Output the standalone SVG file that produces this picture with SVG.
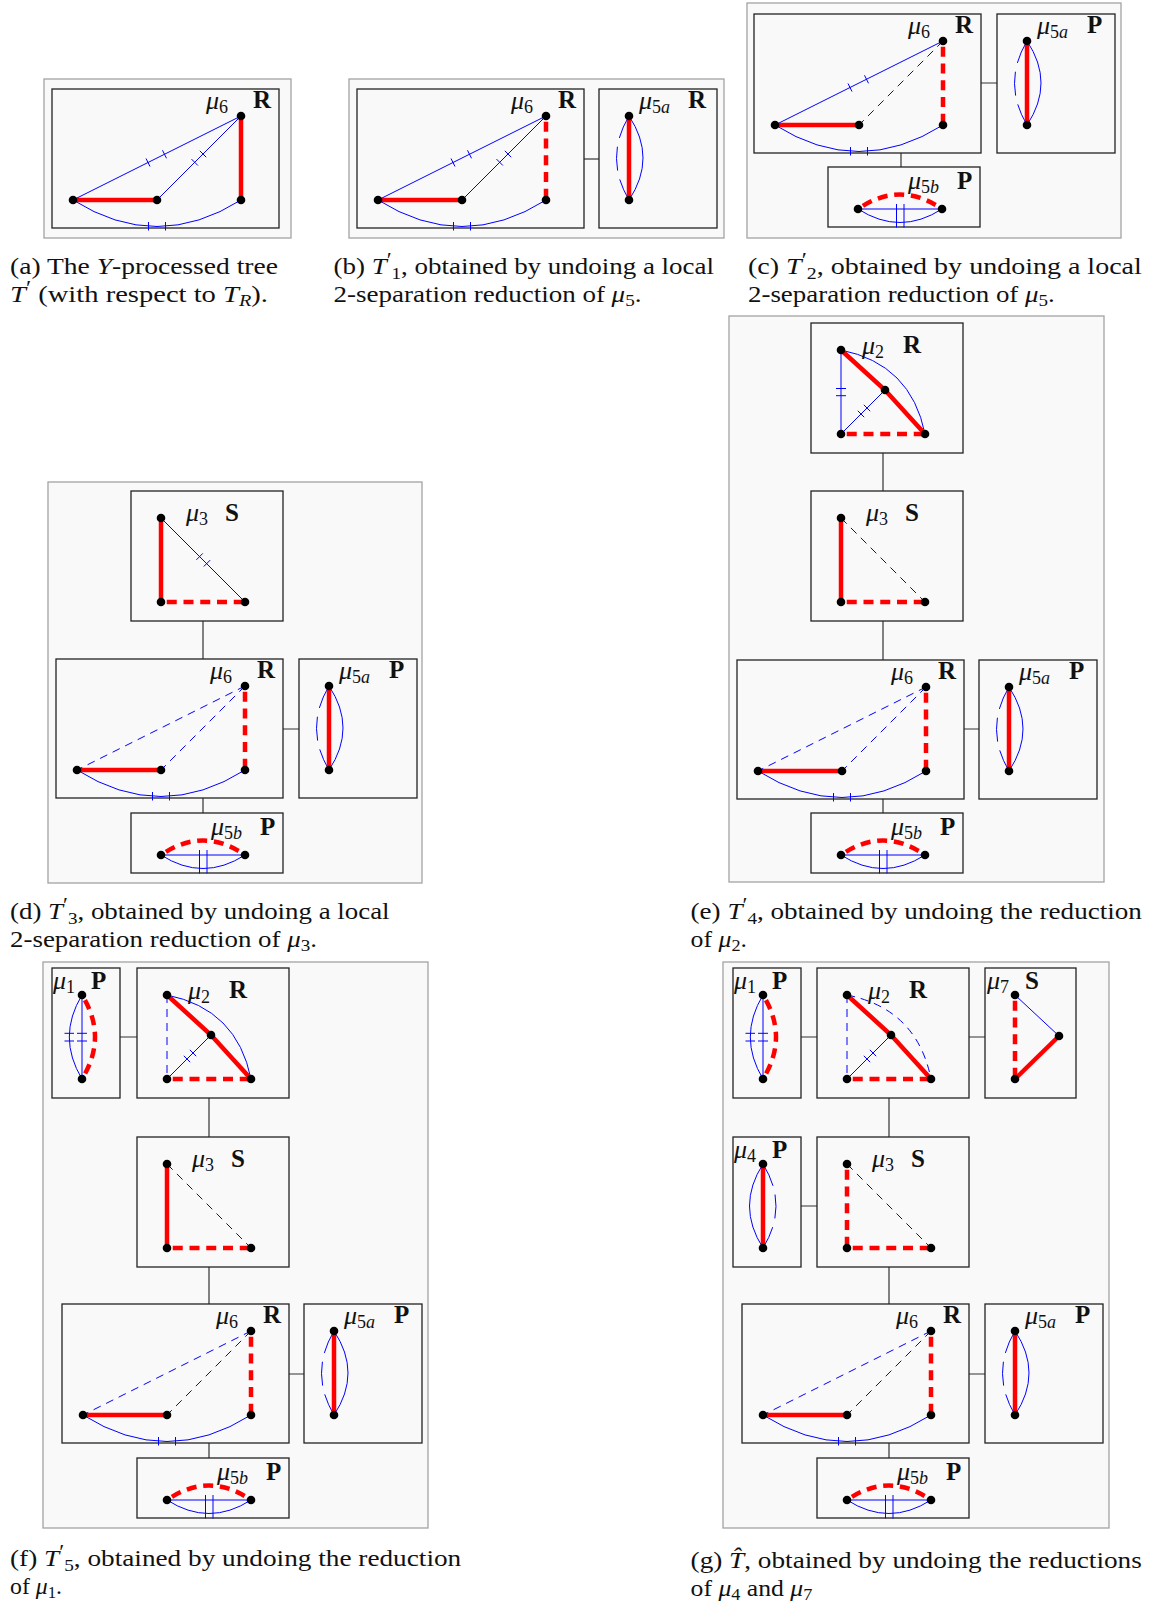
<svg xmlns="http://www.w3.org/2000/svg" width="1153" height="1604" viewBox="0 0 1153 1604">
<style>
.outer{fill:#f9f9f9;stroke:#a3a3a3;stroke-width:1.3}
.box{fill:#f9f9f9;stroke:#222;stroke-width:1.3}
.conn{fill:none;stroke:#333;stroke-width:1.2}
.b{fill:none;stroke:#0000ff;stroke-width:1}
.bd{fill:none;stroke:#0000ff;stroke-width:1;stroke-dasharray:8 6}
.bdl{fill:none;stroke:#0000ff;stroke-width:1;stroke-dasharray:24 9}
.tk{fill:none;stroke:#0000ff;stroke-width:1}
.r{fill:none;stroke:#ff0000;stroke-width:4.5}
.rd{fill:none;stroke:#ff0000;stroke-width:4.5;stroke-dasharray:10 6.75;stroke-dashoffset:11}
.v{fill:#000}
.lbl{font-family:"Liberation Serif",serif;font-size:26px;font-style:italic;fill:#111}
.sub{font-size:18px;font-style:normal}
.bf{font-family:"Liberation Serif",serif;font-size:25px;font-weight:bold;fill:#111}
.cap{font-family:"Liberation Serif",serif;font-size:24px;fill:#111}
.it{font-style:italic}
.cs{font-size:17px}
.pr{font-size:20px}
</style>
<defs>
<g id="m6base">
<rect class="box" width="227" height="139"/>
<path class="b" d="M21,111Q105,164 189,111"/>
<path class="tk" d="M96.5,133V141.5M113.5,133V141.5"/>
<path class="r" d="M21,111H105"/>
</g>
<g id="m6top">
<circle class="v" cx="21" cy="111" r="4.3"/>
<circle class="v" cx="105" cy="111" r="4.3"/>
<circle class="v" cx="189" cy="111" r="4.3"/>
<circle class="v" cx="189" cy="27" r="4.3"/>
<text class="lbl" x="154" y="20">μ<tspan class="sub" dy="4">6</tspan></text>
<text class="bf" x="201" y="19">R</text>
</g>
<g id="adT"><path class="b" d="M21,111L189,27"/><path class="tk" d="M94,69.5L98,77.5M110.5,61.3L114.5,69.3"/></g>
<g id="bdT"><path class="b" d="M105,111L189,27"/><path class="tk" d="M139.5,70.1L145.9,76.5M147.8,61.8L154.2,68.2"/></g>
<path id="adD" class="bd" d="M189,27L21,111"/>
<path id="bdD" class="bd" d="M189,27L105,111"/>
<path id="dcS" class="r" d="M189,27V111"/>
<path id="dcD" class="rd" d="M189,27V111"/>
<g id="m5a">
<rect class="box" width="118" height="139"/>
<path class="b" d="M30,27Q58,69 30,111"/>
<path class="bdl" d="M30,27Q5,69 30,111"/>
<path class="r" d="M30,27V111"/>
<circle class="v" cx="30" cy="27" r="4.3"/>
<circle class="v" cx="30" cy="111" r="4.3"/>
<text class="lbl" x="40" y="20">μ<tspan class="sub" dy="4">5<tspan class="it">a</tspan></tspan></text>
</g>
<g id="m5b">
<rect class="box" width="152" height="60"/>
<path class="rd" d="M30,42Q72,13 114,42"/>
<path class="b" d="M30,42H114"/>
<path class="b" d="M30,42Q72,69 114,42"/>
<path class="tk" d="M68.5,37V60.5M76,37V60.5"/>
<circle class="v" cx="30" cy="42" r="4.3"/>
<circle class="v" cx="114" cy="42" r="4.3"/>
<text class="lbl" x="80" y="22">μ<tspan class="sub" dy="4">5<tspan class="it">b</tspan></tspan></text>
<text class="bf" x="129" y="22">P</text>
</g>
<g id="tridots">
<circle class="v" cx="30" cy="27" r="4.3"/>
<circle class="v" cx="30" cy="111" r="4.3"/>
<circle class="v" cx="114" cy="111" r="4.3"/>
</g>
<g id="mu3lbl">
<text class="lbl" x="55" y="30">μ<tspan class="sub" dy="4">3</tspan></text>
<text class="bf" x="94" y="30">S</text>
</g>
<g id="mu2top">
<circle class="v" cx="30" cy="27" r="4.3"/>
<circle class="v" cx="30" cy="111" r="4.3"/>
<circle class="v" cx="114" cy="111" r="4.3"/>
<circle class="v" cx="74" cy="67" r="4.3"/>
<text class="lbl" x="51" y="31">μ<tspan class="sub" dy="4">2</tspan></text>
<text class="bf" x="92" y="30">R</text>
</g>
<g id="mu2common">
<path class="b" d="M30,111L74,67"/>
<path class="tk" d="M46.8,87.8L53.2,94.2M52.8,81.8L59.2,88.2"/>
<path class="r" d="M30,27L74,67L114,111"/>
<path class="rd" d="M30,111H114"/>
</g>
<g id="mu1">
<rect class="box" width="68" height="130"/>
<path class="b" d="M30,27V111"/>
<path class="b" d="M30,27Q4.6,69 30,111"/>
<path class="tk" d="M12.5,65.3H22M12.5,73H22M25,65.3H35M25,73H35"/>
<path class="rd" d="M30,27Q56,69 30,111"/>
<text class="lbl" x="1" y="21">μ<tspan class="sub" dy="4">1</tspan></text>
<text class="bf" x="39" y="21">P</text>
<circle class="v" cx="30" cy="27" r="4.3"/>
<circle class="v" cx="30" cy="111" r="4.3"/>
</g>
</defs>
<rect width="1153" height="1604" fill="#fff"/>
<g id="panels">
<rect class="outer" x="44" y="79" width="247" height="159"/>
<rect class="outer" x="349" y="79" width="375" height="159"/>
<rect class="outer" x="747" y="3" width="374" height="235"/>
<rect class="outer" x="48" y="482" width="374" height="401"/>
<rect class="outer" x="729" y="316" width="375" height="566"/>
<rect class="outer" x="43" y="962" width="385" height="566"/>
<rect class="outer" x="723" y="962" width="386" height="566"/>
</g>
<g id="connectors">
<path class="conn" d="M584,159H599"/>
<path class="conn" d="M981,83H997M901,153V167"/>
<path class="conn" d="M203,621V659M283,729H299M203,798V813"/>
<path class="conn" d="M883,453V491M883,621V660M964,729H979M883,799V813"/>
<path class="conn" d="M120,1037H137M209,1098V1137M209,1267V1304M289,1374H304M209,1443V1458"/>
<path class="conn" d="M801,1037H817M969,1037H985M801,1206H817M889,1098V1137M889,1267V1304M969,1374H985M889,1443V1458"/>
</g>
<g id="a-mu6" transform="translate(52,89)"><use href="#m6base"/><use href="#adT"/><use href="#bdT"/><use href="#dcS"/><use href="#m6top"/></g>
<g id="b-mu6" transform="translate(357,89)"><use href="#m6base"/><use href="#adT"/><use href="#bdT"/><use href="#dcD"/><use href="#m6top"/></g>
<g id="b-mu5a" transform="translate(599,89)"><use href="#m5a"/><text class="bf" x="89" y="19">R</text></g>
<g id="c-mu6" transform="translate(754,14)"><use href="#m6base"/><use href="#adT"/><use href="#bdD"/><use href="#dcD"/><use href="#m6top"/></g>
<g id="c-mu5a" transform="translate(997,14)"><use href="#m5a"/><text class="bf" x="90" y="19">P</text></g>
<g id="c-mu5b" transform="translate(828,167)"><use href="#m5b"/></g>
<g id="d-mu3" transform="translate(131,491)">
<rect class="box" width="152" height="130"/>
<path class="b" d="M30,27L114,111"/>
<path class="tk" d="M65.4,68.8L71.8,62.4M72.8,75.5L79.2,69.1"/>
<path class="r" d="M30,27V111"/>
<path class="rd" d="M30,111H114"/>
<use href="#tridots"/><use href="#mu3lbl"/>
</g>
<g id="d-mu6" transform="translate(56,659)"><use href="#m6base"/><use href="#adD"/><use href="#bdD"/><use href="#dcD"/><use href="#m6top"/></g>
<g id="d-mu5a" transform="translate(299,659)"><use href="#m5a"/><text class="bf" x="90" y="19">P</text></g>
<g id="d-mu5b" transform="translate(131,813)"><use href="#m5b"/></g>
<g id="e-mu2" transform="translate(811,323)">
<rect class="box" width="152" height="130"/>
<path class="b" d="M30,27Q100,41 114,111"/>
<path class="b" d="M30,27V111"/>
<path class="tk" d="M25,65.5H35M25,72.7H35"/>
<use href="#mu2common"/><use href="#mu2top"/>
</g>
<g id="e-mu3" transform="translate(811,491)">
<rect class="box" width="152" height="130"/>
<path class="bd" d="M30,27L114,111"/>
<path class="r" d="M30,27V111"/>
<path class="rd" d="M30,111H114"/>
<use href="#tridots"/><use href="#mu3lbl"/>
</g>
<g id="e-mu6" transform="translate(737,660)"><use href="#m6base"/><use href="#adD"/><use href="#bdD"/><use href="#dcD"/><use href="#m6top"/></g>
<g id="e-mu5a" transform="translate(979,660)"><use href="#m5a"/><text class="bf" x="90" y="19">P</text></g>
<g id="e-mu5b" transform="translate(811,813)"><use href="#m5b"/></g>
<g id="f-mu1" transform="translate(52,968)"><use href="#mu1"/></g>
<g id="f-mu2" transform="translate(137,968)">
<rect class="box" width="152" height="130"/>
<path class="b" d="M30,27Q100,41 114,111"/>
<path class="bd" d="M30,27V111"/>
<use href="#mu2common"/><use href="#mu2top"/>
</g>
<g id="f-mu3" transform="translate(137,1137)">
<rect class="box" width="152" height="130"/>
<path class="bd" d="M30,27L114,111"/>
<path class="r" d="M30,27V111"/>
<path class="rd" d="M30,111H114"/>
<use href="#tridots"/><use href="#mu3lbl"/>
</g>
<g id="f-mu6" transform="translate(62,1304)"><use href="#m6base"/><use href="#adD"/><use href="#bdD"/><use href="#dcD"/><use href="#m6top"/></g>
<g id="f-mu5a" transform="translate(304,1304)"><use href="#m5a"/><text class="bf" x="90" y="19">P</text></g>
<g id="f-mu5b" transform="translate(137,1458)"><use href="#m5b"/></g>
<g id="g-mu1" transform="translate(733,968)"><use href="#mu1"/></g>
<g id="g-mu2" transform="translate(817,968)">
<rect class="box" width="152" height="130"/>
<path class="bd" d="M30,27Q100,41 114,111"/>
<path class="bd" d="M30,27V111"/>
<use href="#mu2common"/><use href="#mu2top"/>
</g>
<g id="g-mu7" transform="translate(985,968)">
<rect class="box" width="91" height="130"/>
<path class="b" d="M30,27L74,68"/>
<path class="rd" d="M30,27V111"/>
<path class="r" d="M30,111L74,68"/>
<text class="lbl" x="2" y="21">μ<tspan class="sub" dy="4">7</tspan></text>
<text class="bf" x="40" y="21">S</text>
<circle class="v" cx="30" cy="27" r="4.3"/>
<circle class="v" cx="30" cy="111" r="4.3"/>
<circle class="v" cx="74" cy="68" r="4.3"/>
</g>
<g id="g-mu4" transform="translate(733,1137)">
<rect class="box" width="68" height="130"/>
<path class="b" d="M30,27Q3,69 30,111"/>
<path class="bdl" d="M30,27Q56,69 30,111"/>
<path class="r" d="M30,27V111"/>
<text class="lbl" x="1" y="21">μ<tspan class="sub" dy="4">4</tspan></text>
<text class="bf" x="39" y="21">P</text>
<circle class="v" cx="30" cy="27" r="4.3"/>
<circle class="v" cx="30" cy="111" r="4.3"/>
</g>
<g id="g-mu3" transform="translate(817,1137)">
<rect class="box" width="152" height="130"/>
<path class="bd" d="M30,27L114,111"/>
<path class="rd" d="M30,27V111"/>
<path class="rd" d="M30,111H114"/>
<use href="#tridots"/><use href="#mu3lbl"/>
</g>
<g id="g-mu6" transform="translate(742,1304)"><use href="#m6base"/><use href="#adD"/><use href="#bdD"/><use href="#dcD"/><use href="#m6top"/></g>
<g id="g-mu5a" transform="translate(985,1304)"><use href="#m5a"/><text class="bf" x="90" y="19">P</text></g>
<g id="g-mu5b" transform="translate(817,1458)"><use href="#m5b"/></g>
<g id="captions">
<text class="cap" x="10" y="274" textLength="268" lengthAdjust="spacingAndGlyphs">(a) The <tspan class="it">Y</tspan>-processed tree</text>
<text class="cap" x="10" y="302" textLength="258" lengthAdjust="spacingAndGlyphs"><tspan class="it">T</tspan><tspan class="pr" dy="-7">′</tspan><tspan dy="7"> (with respect to </tspan><tspan class="it">T</tspan><tspan class="cs it" dy="4">R</tspan><tspan dy="-4">).</tspan></text>
<text class="cap" x="333.5" y="274" textLength="380.5" lengthAdjust="spacingAndGlyphs">(b) <tspan class="it">T</tspan><tspan class="pr" dy="-7">′</tspan><tspan class="cs" dy="12">1</tspan><tspan dy="-5">, obtained by undoing a local</tspan></text>
<text class="cap" x="333.5" y="302" textLength="308" lengthAdjust="spacingAndGlyphs">2-separation reduction of <tspan class="it">μ</tspan><tspan class="cs" dy="4">5</tspan><tspan dy="-4">.</tspan></text>
<text class="cap" x="748" y="274" textLength="393.8" lengthAdjust="spacingAndGlyphs">(c) <tspan class="it">T</tspan><tspan class="pr" dy="-7">′</tspan><tspan class="cs" dy="12">2</tspan><tspan dy="-5">, obtained by undoing a local</tspan></text>
<text class="cap" x="748" y="302" textLength="306.8" lengthAdjust="spacingAndGlyphs">2-separation reduction of <tspan class="it">μ</tspan><tspan class="cs" dy="4">5</tspan><tspan dy="-4">.</tspan></text>
<text class="cap" x="10" y="919" textLength="379.6" lengthAdjust="spacingAndGlyphs">(d) <tspan class="it">T</tspan><tspan class="pr" dy="-7">′</tspan><tspan class="cs" dy="12">3</tspan><tspan dy="-5">, obtained by undoing a local</tspan></text>
<text class="cap" x="10" y="947" textLength="307" lengthAdjust="spacingAndGlyphs">2-separation reduction of <tspan class="it">μ</tspan><tspan class="cs" dy="4">3</tspan><tspan dy="-4">.</tspan></text>
<text class="cap" x="690.6" y="919" textLength="451.2" lengthAdjust="spacingAndGlyphs">(e) <tspan class="it">T</tspan><tspan class="pr" dy="-7">′</tspan><tspan class="cs" dy="12">4</tspan><tspan dy="-5">, obtained by undoing the reduction</tspan></text>
<text class="cap" x="690.6" y="947" textLength="56.4" lengthAdjust="spacingAndGlyphs">of <tspan class="it">μ</tspan><tspan class="cs" dy="4">2</tspan><tspan dy="-4">.</tspan></text>
<text class="cap" x="10" y="1566" textLength="451.2" lengthAdjust="spacingAndGlyphs">(f) <tspan class="it">T</tspan><tspan class="pr" dy="-7">′</tspan><tspan class="cs" dy="12">5</tspan><tspan dy="-5">, obtained by undoing the reduction</tspan></text>
<text class="cap" x="10" y="1594" textLength="52" lengthAdjust="spacingAndGlyphs">of <tspan class="it">μ</tspan><tspan class="cs" dy="4">1</tspan><tspan dy="-4">.</tspan></text>
<text class="cap" x="690.6" y="1568" textLength="451.2" lengthAdjust="spacingAndGlyphs">(g) <tspan class="it">T&#x302;</tspan>, obtained by undoing the reductions</text>
<text class="cap" x="690.6" y="1596" textLength="121.7" lengthAdjust="spacingAndGlyphs">of <tspan class="it">μ</tspan><tspan class="cs" dy="4">4</tspan><tspan dy="-4"> and </tspan><tspan class="it">μ</tspan><tspan class="cs" dy="4">7</tspan></text>
</g>
</svg>
